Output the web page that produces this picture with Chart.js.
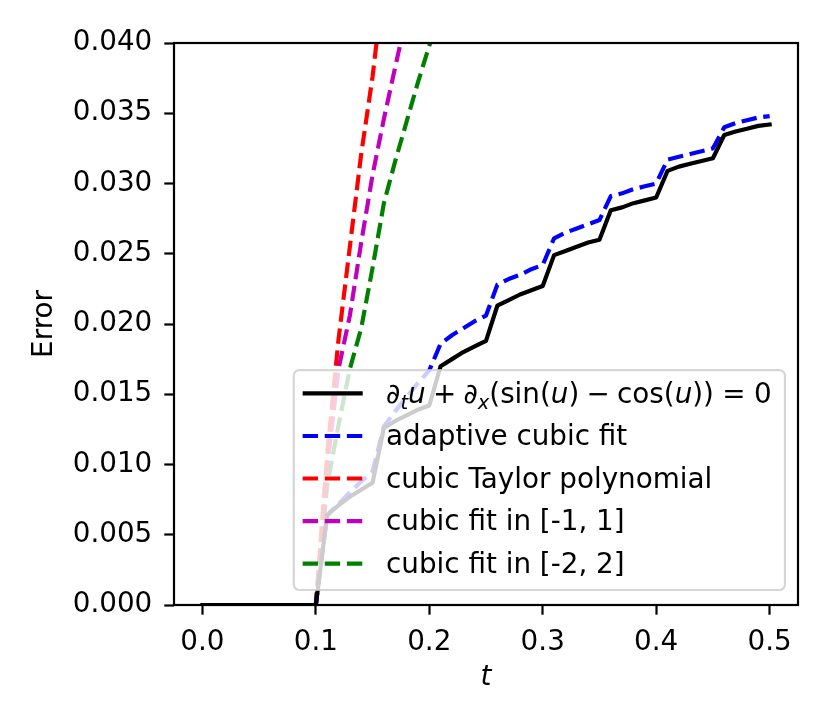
<!DOCTYPE html>
<html lang="en">
<head>
<meta charset="UTF-8">
<title>Error vs t</title>
<script src="https://cdn.jsdelivr.net/npm/chart.js"></script>
<style>
  html, body { margin: 0; padding: 0; background: #fff; }
  #wrap { width: 830px; height: 727px; }
</style>
</head>
<body>
<div id="wrap"><canvas id="errChart" width="830" height="727"></canvas></div>
<script>
// time samples (shared by every curve)
const tVals = [0.00, 0.01, 0.02, 0.03, 0.04, 0.05, 0.06, 0.07, 0.08, 0.09,
               0.10, 0.11, 0.12, 0.13, 0.14, 0.15, 0.16, 0.17, 0.18, 0.19,
               0.20, 0.21, 0.22, 0.23, 0.24, 0.25, 0.26, 0.27, 0.28, 0.29,
               0.30, 0.31, 0.32, 0.33, 0.34, 0.35, 0.36, 0.37, 0.38, 0.39,
               0.40, 0.41, 0.42, 0.43, 0.44, 0.45, 0.46, 0.47, 0.48, 0.49, 0.50];

// error of the exact PDE solution
const exactErr = [0, 0, 0, 0, 0, 0, 0, 0, 0, 0,
                  0, 0.0064, 0.0071, 0.0077, 0.0082, 0.0087, 0.0126, 0.0131, 0.0135, 0.0139,
                  0.0142, 0.0170, 0.0175, 0.0180, 0.0184, 0.0188, 0.0213, 0.0217, 0.0221, 0.0224,
                  0.0227, 0.0249, 0.0252, 0.0255, 0.0258, 0.0260, 0.0281, 0.0283, 0.0286, 0.0288,
                  0.0290, 0.0309, 0.0312, 0.0314, 0.0316, 0.0318, 0.03345, 0.0337, 0.0339, 0.0341, 0.0342];

const adaptiveErr = [0, 0, 0, 0, 0, 0, 0, 0, 0, 0,
                     0, 0.0064, 0.0072, 0.0080, 0.0088, 0.0095, 0.0127, 0.0138, 0.0148, 0.0158,
                     0.0167, 0.0186, 0.0192, 0.0197, 0.0202, 0.0206, 0.0228, 0.0232, 0.0235, 0.0239,
                     0.0242, 0.0261, 0.0265, 0.0268, 0.0271, 0.0274, 0.0291, 0.0293, 0.0296, 0.0298,
                     0.0300, 0.0317, 0.0319, 0.0321, 0.0323, 0.0325, 0.0340, 0.0343, 0.0345, 0.0347, 0.0348];

// these leave the plot through the top, so they stop a little after that
const taylorErr = [0, 0, 0, 0, 0, 0, 0, 0, 0, 0,
                   0, 0.0107, 0.0189, 0.0255, 0.0321, 0.0376, 0.0445];
const fit1Err = [0, 0, 0, 0, 0, 0, 0, 0, 0, 0,
                 0, 0.0098, 0.0168, 0.0206, 0.0258, 0.0306, 0.0346, 0.0383, 0.0419];
const fit2Err = [0, 0, 0, 0, 0, 0, 0, 0, 0, 0,
                 0, 0.0085, 0.0128, 0.0168, 0.0197, 0.0240, 0.0286, 0.0316, 0.0344, 0.0372,
                 0.0398, 0.0425];

const xTicks = [0.0, 0.1, 0.2, 0.3, 0.4, 0.5];
const yTicks = [0.000, 0.005, 0.010, 0.015, 0.020, 0.025, 0.030, 0.035, 0.040];

const seriesLabels = ['∂tu + ∂x(sin(u) − cos(u)) = 0', 'adaptive cubic fit',
                      'cubic Taylor polynomial', 'cubic fit in [-1, 1]', 'cubic fit in [-2, 2]'];
const seriesColors = ['#000000', '#0000ff', '#ff0000', '#bf00bf', '#008000'];

// pieces of the math label: [text, italic, subscript] or a gap in em
const mathLabel = [
    ['∂', true, false], ['t', true, true], ['u', true, false], 0.26, ['+', false, false], 0.26,
    ['∂', true, false], ['x', true, true], ['(sin(', false, false], ['u', true, false],
    [')', false, false], 0.26, ['−', false, false], 0.26, ['cos(', false, false], ['u', true, false],
    ['))', false, false], 0.3, ['=', false, false], 0.3, ['0', false, false]
];

const FS = 27.8;
const FAMILY = '"DejaVu Sans", sans-serif';
const LW = 4.17;
const DASH = [15.4, 6.7];

function pts(vals) {
    return vals.map((v, i) => ({ x: tVals[i], y: v }));
}

const allSeries = [exactErr, adaptiveErr, taylorErr, fit1Err, fit2Err];
const datasets = allSeries.map((vals, i) => ({
    label: seriesLabels[i],
    data: pts(vals),
    borderColor: seriesColors[i],
    borderWidth: LW,
    borderDash: i === 0 ? [] : DASH,
    borderCapStyle: i === 0 ? 'square' : 'butt',
    borderJoinStyle: 'round',
    pointRadius: 0,
    tension: 0,
    fill: false,
    clip: 0
}));

function drawMath(ctx, x, y, f) {
    let cx = x;
    mathLabel.forEach(p => {
        if (typeof p === 'number') { cx += p * f; return; }
        const size = p[2] ? f * 0.7 : f;
        ctx.font = (p[1] ? 'italic ' : '') + size + 'px ' + FAMILY;
        ctx.fillText(p[0], cx, p[2] ? y + 0.24 * f : y);
        cx += ctx.measureText(p[0]).width;
    });
    return cx - x;
}

function mathWidth(ctx, f) {
    let w = 0;
    mathLabel.forEach(p => {
        if (typeof p === 'number') { w += p * f; return; }
        const size = p[2] ? f * 0.7 : f;
        ctx.font = (p[1] ? 'italic ' : '') + size + 'px ' + FAMILY;
        w += ctx.measureText(p[0]).width;
    });
    return w;
}

// axes frame above the lines
const framePlugin = {
    id: 'frame',
    afterDatasetsDraw(chart) {
        const { ctx, chartArea: a } = chart;
        ctx.save();
        ctx.strokeStyle = '#000';
        ctx.lineWidth = 2.2;
        ctx.strokeRect(a.left, a.top, a.right - a.left, a.bottom - a.top);
        ctx.restore();
    }
};

// matplotlib-like legend inside the lower right corner
const legendPlugin = {
    id: 'innerLegend',
    afterDraw(chart) {
        const { ctx, chartArea: a } = chart;
        const f = FS;
        ctx.save();
        let maxW = mathWidth(ctx, f);
        ctx.font = f + 'px ' + FAMILY;
        seriesLabels.slice(1).forEach(s => { maxW = Math.max(maxW, ctx.measureText(s).width); });
        const boxW = 3.32 * f + maxW + 0.48 * f;
        const boxH = 7.91 * f;
        const right = a.right - 0.47 * f;
        const bottom = a.bottom - 0.54 * f;
        const left = right - boxW, top = bottom - boxH;
        const r = 0.2 * f;
        ctx.beginPath();
        ctx.moveTo(left + r, top);
        ctx.arcTo(right, top, right, bottom, r);
        ctx.arcTo(right, bottom, left, bottom, r);
        ctx.arcTo(left, bottom, left, top, r);
        ctx.arcTo(left, top, right, top, r);
        ctx.closePath();
        ctx.fillStyle = 'rgba(255,255,255,0.8)';
        ctx.fill();
        ctx.strokeStyle = 'rgba(204,204,204,0.8)';
        ctx.lineWidth = 2.2;
        ctx.stroke();

        chart.data.datasets.forEach((ds, i) => {
            const yRow = top + 0.84 * f + i * 1.53 * f;
            ctx.beginPath();
            ctx.setLineDash(ds.borderDash);
            ctx.lineCap = 'butt';
            ctx.strokeStyle = ds.borderColor;
            ctx.lineWidth = LW;
            ctx.moveTo(left + 0.32 * f, yRow);
            ctx.lineTo(left + 2.48 * f, yRow);
            ctx.stroke();
            ctx.setLineDash([]);
            ctx.fillStyle = '#000';
            ctx.textBaseline = 'alphabetic';
            ctx.textAlign = 'left';
            const tx = left + 3.32 * f, ty = yRow + 0.335 * f;
            if (i === 0) {
                drawMath(ctx, tx, ty, f);
            } else {
                ctx.font = f + 'px ' + FAMILY;
                ctx.fillText(ds.label, tx, ty);
            }
        });
        ctx.restore();
    }
};

const tickGrid = {
    display: true,
    drawOnChartArea: false,
    drawTicks: true,
    tickLength: 9.7,
    tickWidth: 2.2,
    tickColor: '#000',
    color: '#000'
};

const ctx = document.getElementById('errChart').getContext('2d');
const chart = new Chart(ctx, {
    type: 'line',
    data: { datasets: datasets },
    plugins: [framePlugin, legendPlugin],
    options: {
        responsive: false,
        animation: false,
        layout: { padding: { left: 0, top: 43, right: 32, bottom: 0 } },
        plugins: { legend: { display: false }, tooltip: { enabled: false } },
        scales: {
            x: {
                type: 'linear',
                min: -0.025,
                max: 0.525,
                grid: tickGrid,
                border: { display: false },
                afterBuildTicks: s => { s.ticks = xTicks.map(v => ({ value: v })); },
                afterFit: s => { s.height = 122; },
                ticks: {
                    color: '#000',
                    font: { family: FAMILY, size: FS },
                    padding: 11,
                    maxRotation: 0,
                    callback: v => v.toFixed(1)
                },
                title: {
                    display: true,
                    text: 't',
                    color: '#000',
                    font: { family: FAMILY, size: FS, style: 'italic' },
                    padding: { top: 0, bottom: 33 }
                }
            },
            y: {
                type: 'linear',
                min: 0,
                max: 0.04,
                grid: tickGrid,
                border: { display: false },
                afterBuildTicks: s => { s.ticks = yTicks.map(v => ({ value: v })); },
                afterFit: s => { s.width = 174; },
                ticks: {
                    color: '#000',
                    font: { family: FAMILY, size: FS },
                    padding: 12,
                    callback: v => v.toFixed(3)
                },
                title: {
                    display: true,
                    text: 'Error',
                    color: '#000',
                    font: { family: FAMILY, size: FS },
                    padding: { top: 28, bottom: 0 }
                }
            }
        }
    }
});
</script>
</body>
</html>
